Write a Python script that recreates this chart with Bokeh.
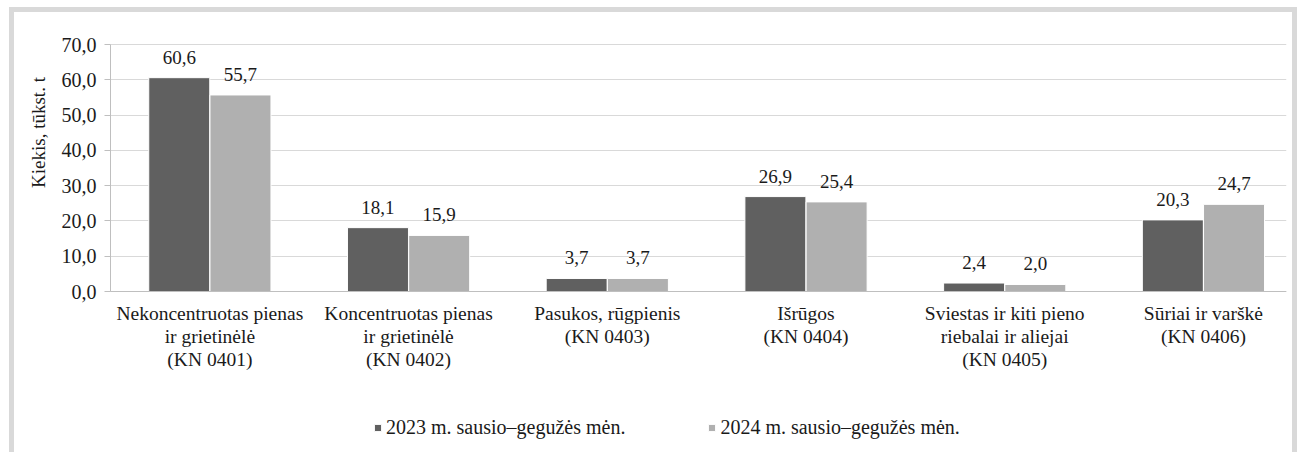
from bokeh.plotting import figure
from bokeh.models import (Range1d, FixedTicker, ColumnDataSource, LabelSet, Label, Legend,
                          LegendItem, BoxAnnotation)
from bokeh.transform import dodge
from bokeh.embed import file_html
from bokeh.resources import INLINE

categories = [
    "Nekoncentruotas pienas\nir grietinėlė\n(KN 0401)",
    "Koncentruotas pienas\nir grietinėlė\n(KN 0402)",
    "Pasukos, rūgpienis\n(KN 0403)",
    "Išrūgos\n(KN 0404)",
    "Sviestas ir kiti pieno\nriebalai ir aliejai\n(KN 0405)",
    "Sūriai ir varškė\n(KN 0406)",
]
series_names = ["2023 m. sausio–gegužės mėn.", "2024 m. sausio–gegužės mėn."]
values_2023 = [60.6, 18.1, 3.7, 26.9, 2.4, 20.3]
values_2024 = [55.7, 15.9, 3.7, 25.4, 2.0, 24.7]
y_ticks = [0, 10, 20, 30, 40, 50, 60, 70]
y_tick_labels = ["0,0", "10,0", "20,0", "30,0", "40,0", "50,0", "60,0", "70,0"]
y_axis_title = "Kiekis, tūkst. t"

FONT = "'Liberation Serif', 'Times New Roman', Tinos, serif"
FS = "19px"
TXT = "#1a1a1a"
DARK = "#606060"
LIGHT = "#b0b0b0"
AX = "#bfbfbf"

idx = list(range(len(categories)))
fmt = lambda v: f"{v:.1f}".replace(".", ",")
src = ColumnDataSource(dict(
    idx=idx,
    v23=values_2023,
    v24=values_2024,
    l23=[fmt(v) for v in values_2023],
    l24=[fmt(v) for v in values_2024],
))

X0 = -0.5          # where the value axis sits
X_END = 5.418
Y_TOP = 70

p = figure(width=1288, height=445,
           x_range=Range1d(-0.9831, X_END), y_range=Range1d(-47.04, 79.07),
           output_backend="svg", toolbar_location=None,
           min_border_left=0, min_border_right=16,
           min_border_top=0, min_border_bottom=0)
p.styles = {"margin-left": "9px", "margin-top": "7px",
            "border-top": "5px solid #d9d9d9",
            "border-left": "5px solid #d9d9d9",
            "border-right": "5px solid #d9d9d9"}
p.outline_line_color = None
p.background_fill_color = "white"
p.border_fill_color = "white"

# grid
p.xgrid.visible = False
yg = p.ygrid[0]
yg.grid_line_color = "#d9d9d9"
yg.grid_line_width = 1
if "cross_bounds" in yg.properties():
    yg.cross_bounds = (X0, X_END)
else:
    p.add_layout(BoxAnnotation(right=X0, fill_color="white", fill_alpha=1,
                               line_color=None, level="underlay"))

OFF = 0.154
W = 0.307
r1 = p.vbar(x=dodge("idx", -OFF, range=p.x_range), top="v23", width=W, bottom=0,
            source=src, fill_color=DARK, line_color="white", line_width=1)
r2 = p.vbar(x=dodge("idx", OFF, range=p.x_range), top="v24", width=W, bottom=0,
            source=src, fill_color=LIGHT, line_color="white", line_width=1)

for xf, yf, tf in [(-OFF, "v23", "l23"), (OFF, "v24", "l24")]:
    p.add_layout(LabelSet(x=dodge("idx", xf, range=p.x_range), y=yf, text=tf, source=src,
                          y_offset=14, text_align="center", text_baseline="alphabetic",
                          text_font=FONT, text_font_size=FS, text_color=TXT))

# category axis sits at y = 0 inside the frame
xa = p.xaxis[0]
xa.fixed_location = 0
xa.bounds = (X0, X_END)
xa.ticker = FixedTicker(ticks=idx)
xa.major_label_overrides = {i: c for i, c in zip(idx, categories)}
xa.major_tick_in = 0
xa.major_tick_out = 0
xa.minor_tick_line_color = None
xa.axis_line_color = AX
xa.major_label_standoff = 11
xa.major_label_text_font = FONT
xa.major_label_text_font_size = "19.5px"
xa.major_label_text_color = TXT
xa.major_label_text_line_height = 1.1

# value axis sits at x = X0 inside the frame
ya = p.yaxis[0]
ya.fixed_location = X0
ya.ticker = FixedTicker(ticks=y_ticks)
ya.bounds = (0, Y_TOP)
ya.major_label_overrides = {t: l for t, l in zip(y_ticks, y_tick_labels)}
ya.major_tick_in = 0
ya.major_tick_out = 6
ya.major_tick_line_color = AX
ya.minor_tick_line_color = None
ya.axis_line_color = AX
ya.major_label_standoff = 8
ya.major_label_text_font = FONT
ya.major_label_text_font_size = "20px"
ya.major_label_text_color = TXT

p.add_layout(Label(x=24, y=325, x_units="screen", y_units="screen", text=y_axis_title,
                   angle=90, angle_units="deg", text_align="center", text_baseline="middle",
                   text_font=FONT, text_font_size=FS, text_color=TXT))

legend = Legend(items=[LegendItem(label=series_names[0], renderers=[r1]),
                       LegendItem(label=series_names[1], renderers=[r2])],
                location=(359, 18), orientation="horizontal",
                glyph_width=9, glyph_height=9, label_standoff=4, spacing=82,
                padding=0, margin=0, border_line_color=None, background_fill_alpha=0,
                label_text_font=FONT, label_text_font_size="20px", label_text_color=TXT)
p.add_layout(legend)

open("out.html", "w").write(file_html(p, INLINE))
